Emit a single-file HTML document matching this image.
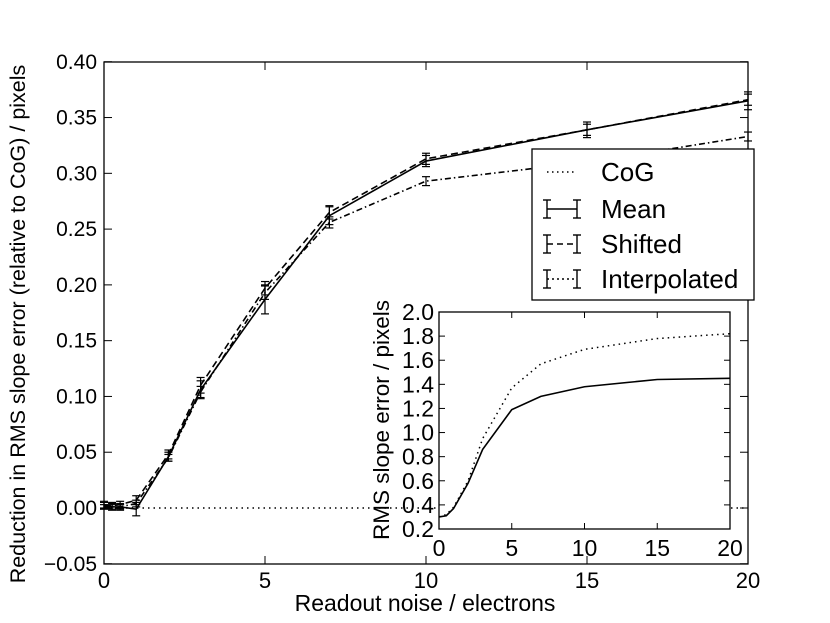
<!DOCTYPE html>
<html><head><meta charset="utf-8"><style>
body{margin:0;background:#fff}
svg{display:block;font-family:"Liberation Sans","DejaVu Sans",sans-serif}
</style></head><body>
<svg id="c" width="830" height="623" xmlns="http://www.w3.org/2000/svg"></svg>
<script>
const xs=[0,0.25,0.5,1,2,3,5,7,10,15,20];
const meanY=[0.002,0.001,0.001,-0.001,0.046,0.106,0.187,0.262,0.311,0.339,0.365];
const meanErr=[0.003,0.003,0.003,0.006,0.004,0.008,0.013,0.008,0.005,0.007,0.008];
const shiftY=[0.003,0.002,0.003,0.007,0.048,0.110,0.197,0.265,0.313,0.339,0.366];
const shiftErr=[0.003,0.003,0.003,0.004,0.004,0.007,0.006,0.006,0.005,0.005,0.005];
const interpY=[0.001,0.001,0.001,0.004,0.045,0.104,0.193,0.256,0.293,0.310,0.333];
const interpErr=[0.002,0.002,0.002,0.003,0.003,0.005,0.006,0.005,0.004,0.004,0.004];
const xTicks=[0,5,10,15,20];
const yTicks=[-0.05,0,0.05,0.10,0.15,0.20,0.25,0.30,0.35,0.40];
const insX=[0,0.5,1,2,3,5,7,10,15,20];
const insCog=[0.3,0.32,0.38,0.6,0.95,1.37,1.57,1.69,1.78,1.82];
const insMean=[0.3,0.31,0.37,0.58,0.86,1.19,1.30,1.38,1.44,1.45];
const insYTicks=[0.2,0.4,0.6,0.8,1.0,1.2,1.4,1.6,1.8,2.0];

const NS="http://www.w3.org/2000/svg",svg=document.getElementById('c');
function el(t,a,p){const e=document.createElementNS(NS,t);for(const k in a)e.setAttribute(k,a[k]);(p||svg).appendChild(e);return e;}
const X=v=>104+v*32.2, Y=v=>508-v*1115.6;
const IX=v=>439+v*(291/20), IY=v=>529-(v-0.2)*(217/1.8);

xTicks.forEach(t=>{
 let l=el('line',{x1:X(t),x2:X(t),y1:564,y2:556,stroke:'#000'});
 
 el('line',{x1:X(t),x2:X(t),y1:62,y2:70,stroke:'#000'});
 let tx=el('text',{x:X(t),y:588,'font-size':22,'text-anchor':'middle'});tx.textContent=t;
 
});
yTicks.forEach(t=>{
 el('line',{x1:104,x2:112,y1:Y(t),y2:Y(t),stroke:'#000'});
 el('line',{x1:748,x2:740,y1:Y(t),y2:Y(t),stroke:'#000'});
 let tx=el('text',{x:97,y:Y(t)+7,'font-size':21,'text-anchor':'end'});tx.textContent=(t<0?'\u2212':'')+Math.abs(t).toFixed(2);
 
});
let cog=el('line',{x1:X(0),x2:X(20),y1:Y(0),y2:Y(0),stroke:'#000','stroke-dasharray':'1.5,4','stroke-width':1.5});

function series(ys,errs,dash,name){
 const p=el('polyline',{points:xs.map((x,i)=>X(x)+','+Y(ys[i])).join(' '),fill:'none',stroke:'#000','stroke-width':1.6,'stroke-dasharray':dash});
 
 xs.forEach((x,i)=>{
  const g=el('g',{stroke:'#000','stroke-width':1.2});
  
  const a=Y(ys[i]-errs[i]),b=Y(ys[i]+errs[i]);
  el('line',{x1:X(x),x2:X(x),y1:a,y2:b},g);
  el('line',{x1:X(x)-4,x2:X(x)+4,y1:a,y2:a},g);
  el('line',{x1:X(x)-4,x2:X(x)+4,y1:b,y2:b},g);
 });
}
series(interpY,interpErr,'6,3,1.5,3','series-interpolated');
series(shiftY,shiftErr,'7,4','series-shifted');
series(meanY,meanErr,'none','series-mean');
el('rect',{x:104,y:62,width:644,height:502,fill:'none',stroke:'#000','stroke-width':1.3});
let xl=el('text',{x:425,y:611,'font-size':23,'text-anchor':'middle'});xl.textContent='Readout noise / electrons';

let yl=el('text',{x:0,y:0,'font-size':21.5,'text-anchor':'middle',transform:'translate(25,324) rotate(-90)'});yl.textContent='Reduction in RMS slope error (relative to CoG) / pixels';


const lg=el('g',{});
el('rect',{x:532,y:149,width:222,height:151,fill:'#fff',stroke:'#000','stroke-width':1.3},lg);
const le=[['CoG',172],['Mean',209],['Shifted',244],['Interpolated',279]];
le.forEach(([n,y],i)=>{
 const g=el('g',{stroke:'#000','stroke-width':1.4},lg);
 
 if(i==0){el('line',{x1:547,x2:577,y1:y,y2:y,'stroke-dasharray':'1.5,3.5'},g);}
 else{
  el('line',{x1:547,x2:577,y1:y,y2:y,'stroke-dasharray':i==1?'none':(i==2?'6,4':'2,3')},g);
  [547,577].forEach(xx=>{el('line',{x1:xx,x2:xx,y1:y-9,y2:y+9},g);el('line',{x1:xx-4,x2:xx+4,y1:y-9,y2:y-9},g);el('line',{x1:xx-4,x2:xx+4,y1:y+9,y2:y+9},g);});
 }
 const t=el('text',{x:601,y:y+9,'font-size':26,stroke:'none'},g);t.textContent=n;
});

el('rect',{x:439,y:312,width:291,height:217,fill:'#fff'});
const ig=el('g',{});
[0,5,10,15,20].forEach(t=>{
 el('line',{x1:IX(t),x2:IX(t),y1:529,y2:523,stroke:'#000'},ig);
 el('line',{x1:IX(t),x2:IX(t),y1:312,y2:318,stroke:'#000'},ig);
 const tx=el('text',{x:IX(t),y:556,'font-size':23,'text-anchor':'middle'},ig);tx.textContent=t;
});
insYTicks.forEach(t=>{
 el('line',{x1:439,x2:445,y1:IY(t),y2:IY(t),stroke:'#000'},ig);
 el('line',{x1:730,x2:724,y1:IY(t),y2:IY(t),stroke:'#000'},ig);
 const tx=el('text',{x:434,y:IY(t)+8,'font-size':23,'text-anchor':'end'},ig);tx.textContent=t.toFixed(1);
});
const ic=el('polyline',{points:insX.map((x,i)=>IX(x)+','+IY(insCog[i])).join(' '),fill:'none',stroke:'#000','stroke-width':1.5,'stroke-dasharray':'1.5,4'},ig);

const im=el('polyline',{points:insX.map((x,i)=>IX(x)+','+IY(insMean[i])).join(' '),fill:'none',stroke:'#000','stroke-width':1.6},ig);

el('rect',{x:439,y:312,width:291,height:217,fill:'none',stroke:'#000','stroke-width':1.3},ig);
const iy=el('text',{x:0,y:0,'font-size':22.5,'text-anchor':'middle',transform:'translate(389,420) rotate(-90)'},ig);iy.textContent='RMS slope error / pixels';
</script>
</body></html>
